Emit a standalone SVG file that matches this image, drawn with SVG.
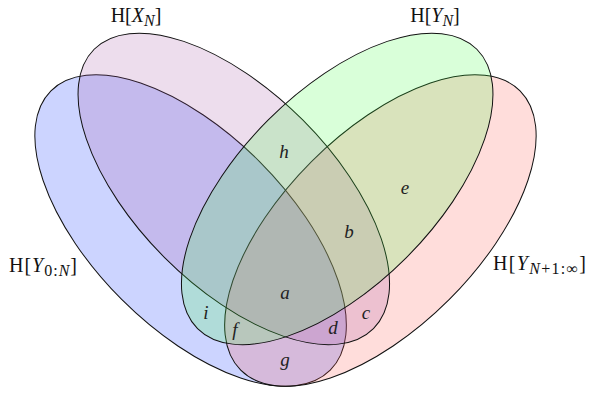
<svg xmlns="http://www.w3.org/2000/svg" width="589" height="397" viewBox="0 0 589 397">
<style>
.set{fill-opacity:0.2;stroke:#111;stroke-width:1}
.lbl{font-family:"Liberation Serif","DejaVu Serif",serif;font-size:20px;fill:#111}
.it{font-style:italic}
.sub{font-size:16px}
.reg{font-family:"Liberation Serif","DejaVu Serif",serif;font-size:19px;font-style:italic;fill:#222;text-anchor:middle}
</style>
<rect width="589" height="397" fill="#fff"/>
<g id="Y0N">
<ellipse class="set" cx="190.6" cy="230.5" rx="197.5" ry="97.5" transform="rotate(45 190.6 230.5)" fill="#0028ff"/>
</g>
<g id="YN1inf">
<ellipse class="set" cx="380.4" cy="230.5" rx="197.5" ry="97.5" transform="rotate(-45 380.4 230.5)" fill="#ff554b"/>
</g>
<g id="XN">
<ellipse class="set" cx="233.8" cy="188.9" rx="197.5" ry="97.5" transform="rotate(45 233.8 188.9)" fill="#a555a5"/>
</g>
<g id="YN">
<ellipse class="set" cx="337.2" cy="188.9" rx="197.5" ry="97.5" transform="rotate(-45 337.2 188.9)" fill="#41ff41"/>
</g>
<g id="labels">
<text class="lbl" x="136" y="22" text-anchor="middle">H[<tspan class="it">X</tspan><tspan class="it sub" dy="4">N</tspan><tspan dy="-4">]</tspan></text>
<text class="lbl" x="435" y="22" text-anchor="middle">H[<tspan class="it">Y</tspan><tspan class="it sub" dy="4">N</tspan><tspan dy="-4">]</tspan></text>
<text class="lbl" x="9" y="272" textLength="68" lengthAdjust="spacing">H[<tspan class="it">Y</tspan><tspan class="sub" dy="4">0:</tspan><tspan class="it sub">N</tspan><tspan dy="-4">]</tspan></text>
<text class="lbl" x="493" y="270" textLength="93" lengthAdjust="spacing">H[<tspan class="it">Y</tspan><tspan class="it sub" dy="4">N</tspan><tspan class="sub">+1:∞</tspan><tspan dy="-4">]</tspan></text>
</g>
<g id="regions">
<text class="reg" x="284" y="158">h</text>
<text class="reg" x="405" y="194">e</text>
<text class="reg" x="349" y="238">b</text>
<text class="reg" x="285" y="299">a</text>
<text class="reg" x="206" y="319">i</text>
<text class="reg" x="235" y="336">f</text>
<text class="reg" x="333" y="334">d</text>
<text class="reg" x="366" y="319">c</text>
<text class="reg" x="285" y="366">g</text>
</g>
</svg>
